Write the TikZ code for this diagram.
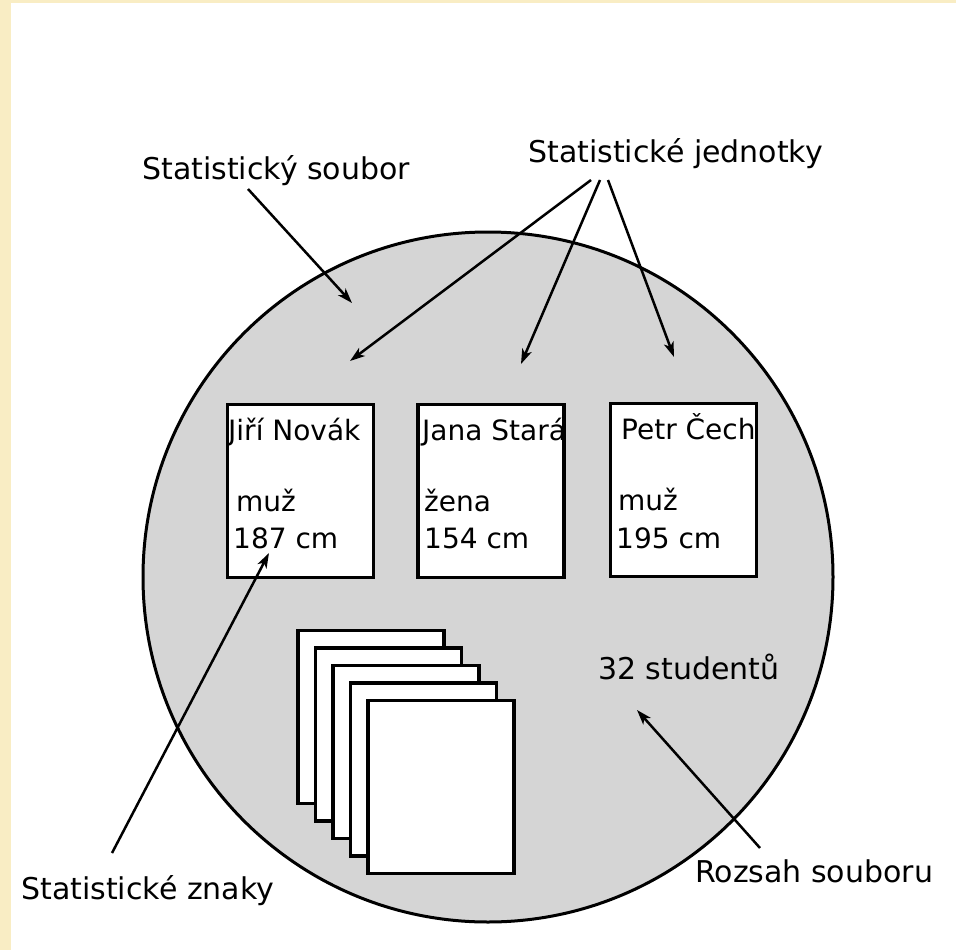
\documentclass[tikz,border=0pt]{standalone}
\usepackage{fontspec}
\setmainfont{DejaVu Sans}
\usetikzlibrary{arrows.meta}

\definecolor{paper}{HTML}{F9EDC4}
\definecolor{setgray}{HTML}{D5D5D5}

\begin{document}
\begin{tikzpicture}[x=1pt,y=-1pt,
  setdisc/.style={fill=setgray,draw=black,line width=3pt},
  unitcard/.style={draw=black,fill=white,line width=3.5pt,minimum width=146pt,minimum height=173pt,inner sep=0pt},
  label/.style={inner sep=0pt,anchor=base west,font=\fontsize{30}{36}\selectfont},
  cardtext/.style={inner sep=0pt,anchor=base west,font=\fontsize{28}{34}\selectfont},
  pointer/.style={line width=2.5pt,-{Stealth[length=15pt,width=10pt,inset=4pt]}}]

% page and its yellow edge
\useasboundingbox (0,0) rectangle (956,950);
\fill[white] (0,0) rectangle (956,950);
\fill[paper] (0,0) rectangle (956,3);
\fill[paper] (0,0) rectangle (11,950);

% the statistical set
\draw[setdisc] (488,577) circle[radius=345pt];

% three statistical units
\node[unitcard] (jiri) at (300.5,491) {};
\node[unitcard] (jana) at (491,491) {};
\node[unitcard] (petr) at (683.5,490) {};

\node[cardtext] (jiriname) at (228,440) {Jiří Novák};
\node[cardtext] (jirisex)  at (236,511) {muž};
\node[cardtext] (jirih)    at (233,548) {187 cm};

\node[cardtext] (janame) at (422,440) {Jana Stará};
\node[cardtext] (janasex) at (424,511) {žena};
\node[cardtext] (janah)   at (424,548) {154 cm};

\node[cardtext] (petrname) at (621,439) {Petr Čech};
\node[cardtext] (petrsex)  at (618,510) {muž};
\node[cardtext] (petrh)    at (616,548) {195 cm};

% stack of the remaining units
\foreach \i in {0,...,4}
  \node[unitcard] (stack\i) at (371+17.5*\i,717+17.5*\i) {};

% labels
\node[label] (soubor)    at (142,179) {Statistický soubor};
\node[label] (jednotky)  at (528,162) {Statistické jednotky};
\node[label] (znaky)     at (21,899)  {Statistické znaky};
\node[label] (rozsah)    at (695,882) {Rozsah souboru};
\node[label] (studentu)  at (598,679) {32 studentů};

% arrow ends
\coordinate (souborA) at (248,189);
\coordinate (souborB) at (352,303);
\coordinate (jedA)  at (591,180);
\coordinate (jedB)  at (600,180);
\coordinate (jedC)  at (608,180);
\coordinate (toJiri) at (350,361);
\coordinate (toJana) at (521,364);
\coordinate (toPetr) at (674,357);
\coordinate (znakyA) at (112,853);
\coordinate (znakyB) at (269,553);
\coordinate (rozsahA) at (760,848);
\coordinate (rozsahB) at (637,710);

\draw[pointer] (souborA) -- (souborB);
\draw[pointer] (jedA) -- (toJiri);
\draw[pointer] (jedB) -- (toJana);
\draw[pointer] (jedC) -- (toPetr);
\draw[pointer] (znakyA) -- (znakyB);
\draw[pointer] (rozsahA) -- (rozsahB);
\end{tikzpicture}
\end{document}
